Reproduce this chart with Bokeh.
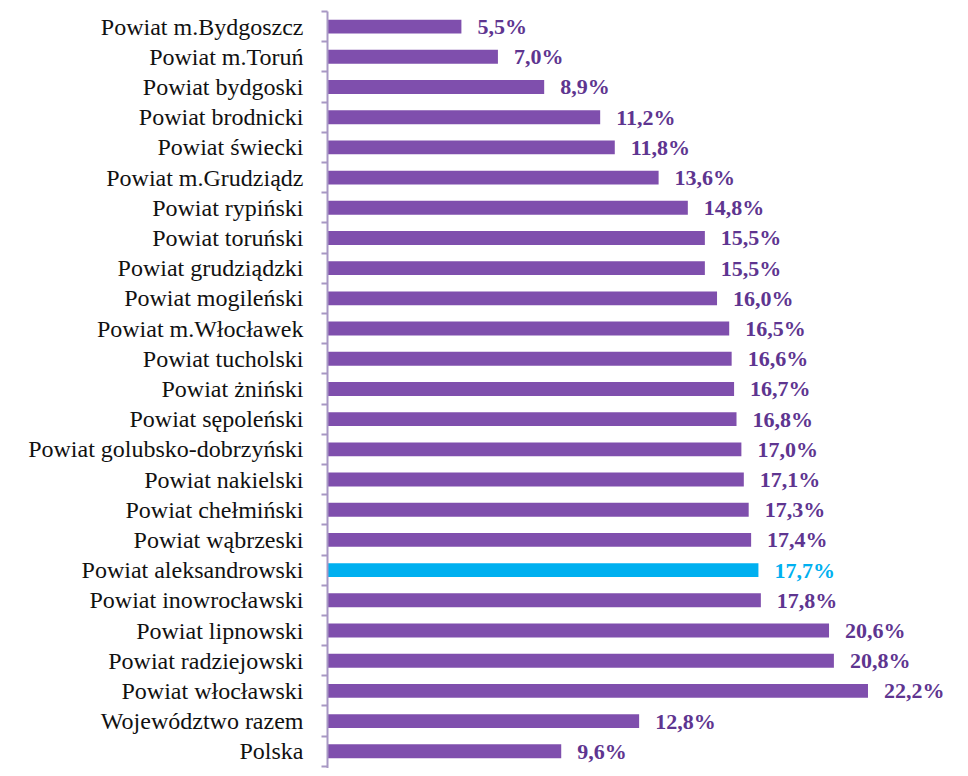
from bokeh.plotting import figure
from bokeh.models import ColumnDataSource, FixedTicker, LabelSet
from bokeh.embed import file_html
from bokeh.resources import INLINE

categories = [
    "Powiat m.Bydgoszcz", "Powiat m.Toruń", "Powiat bydgoski", "Powiat brodnicki",
    "Powiat świecki", "Powiat m.Grudziądz", "Powiat rypiński", "Powiat toruński",
    "Powiat grudziądzki", "Powiat mogileński", "Powiat m.Włocławek", "Powiat tucholski",
    "Powiat żniński", "Powiat sępoleński", "Powiat golubsko-dobrzyński", "Powiat nakielski",
    "Powiat chełmiński", "Powiat wąbrzeski", "Powiat aleksandrowski", "Powiat inowrocławski",
    "Powiat lipnowski", "Powiat radziejowski", "Powiat włocławski", "Województwo razem",
    "Polska",
]
values = [5.5, 7.0, 8.9, 11.2, 11.8, 13.6, 14.8, 15.5, 15.5, 16.0, 16.5, 16.6, 16.7,
          16.8, 17.0, 17.1, 17.3, 17.4, 17.7, 17.8, 20.6, 20.8, 22.2, 12.8, 9.6]
highlight = "Powiat aleksandrowski"

BAR = "#7f4fad"
LBL = "#5e3590"
HI = "#00b0f0"

ypos = [-i for i in range(len(categories))]
colors = [HI if c == highlight else BAR for c in categories]
lcolors = [HI if c == highlight else LBL for c in categories]
labels = [f"{v:.1f}%".replace(".", ",") for v in values]

src = ColumnDataSource(dict(y=ypos, v=values, c=colors, lc=lcolors, lab=labels))

p = figure(width=960, height=768, output_backend="svg", toolbar_location=None,
           x_range=(0, 26.0), y_range=(-24.57, 0.5),
           min_border_left=327, min_border_right=0, min_border_top=11, min_border_bottom=0)
p.outline_line_color = None
p.background_fill_color = None
p.border_fill_color = None
p.grid.visible = False
p.xaxis.visible = False

p.hbar(y="y", right="v", left=0, height=0.46, fill_color="c", line_color=None, source=src)

ls = LabelSet(x="v", y="y", text="lab", source=src, x_offset=16, y_offset=0,
              text_color="lc", text_font="Liberation Serif", text_font_style="bold",
              text_font_size="22px", text_baseline="middle", text_align="left")
p.add_layout(ls)

yax = p.yaxis[0]
yax.ticker = FixedTicker(ticks=ypos, minor_ticks=[0.5 - i for i in range(len(categories) + 1)])
yax.major_label_overrides = {y: c for y, c in zip(ypos, categories)}
yax.major_tick_in = 0
yax.major_tick_out = 0
yax.minor_tick_in = 0
yax.minor_tick_out = 6
yax.axis_line_color = "#a898c4"
yax.axis_line_width = 2
yax.minor_tick_line_color = "#a898c4"
yax.minor_tick_line_width = 2
yax.major_label_text_font = "Liberation Serif"
yax.major_label_text_font_size = "24px"
yax.major_label_text_color = "#111111"
yax.major_label_standoff = 18

open("out.html", "w").write(file_html(p, INLINE))
